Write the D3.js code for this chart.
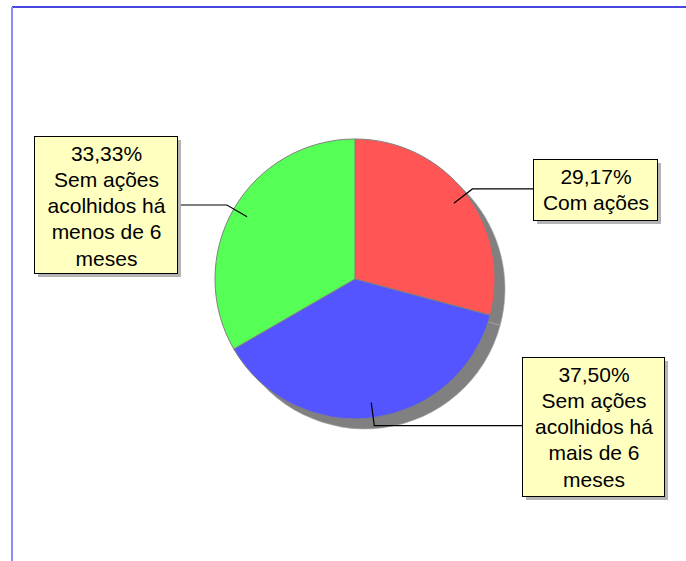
<!DOCTYPE html>
<html>
<head>
<meta charset="utf-8">
<script src="https://cdn.jsdelivr.net/npm/d3@7/dist/d3.min.js"></script>
<style>
  html, body { margin: 0; padding: 0; background: #fff; }
  svg { display: block; }
  .label text { font-family: "Liberation Sans", Arial, sans-serif; font-size: 21px; fill: #000; }
</style>
</head>
<body>
<div id="chart"></div>
<script>
// slices, clockwise from 12 o'clock
var categories = ['Com ações', 'Sem ações acolhidos há mais de 6 meses', 'Sem ações acolhidos há menos de 6 meses'];
var values = [29.17, 37.50, 33.33];
var labelLines = [
  ['Com ações'],
  ['Sem ações', 'acolhidos há', 'mais de 6', 'meses'],
  ['Sem ações', 'acolhidos há', 'menos de 6', 'meses']
];
var colors = ['#ff5555', '#5555ff', '#55ff55'];

var width = 686, height = 561;
var cx = 355, cy = 279, radius = 140, shadowOffset = 10;

// label boxes, same order as the slices
var boxes = [
  { x: 533, y: 159, w: 124, h: 61, side: 'right' },
  { x: 522, y: 357, w: 142, h: 139, side: 'right' },
  { x: 34, y: 136, w: 143, h: 137, side: 'left' }
];

var locale = d3.formatLocale({ decimal: ',', thousands: '.', grouping: [3], currency: ['', ''] });
var fmt = locale.format('.2f');

var svg = d3.select('#chart').append('svg')
    .attr('width', width)
    .attr('height', height);

// frame lines
svg.append('line')
    .attr('x1', 12).attr('y1', 7).attr('x2', width).attr('y2', 7)
    .attr('stroke', '#4848e0').attr('stroke-width', 2);
svg.append('line')
    .attr('x1', 12).attr('y1', 7).attr('x2', 12).attr('y2', height)
    .attr('stroke', '#8c8cff').attr('stroke-width', 2);

var pie = d3.pie().sort(null).value(function(d) { return d; });
var arcs = pie(values);
var arc = d3.arc().innerRadius(0).outerRadius(radius);

// shadow
svg.append('g')
    .attr('transform', 'translate(' + (cx + shadowOffset) + ',' + (cy + shadowOffset) + ')')
  .selectAll('path')
    .data(arcs)
  .enter().append('path')
    .attr('d', arc)
    .attr('fill', '#808080')
    .attr('stroke', '#a8a8a8')
    .attr('stroke-width', 0.6);

// slices
svg.append('g')
    .attr('transform', 'translate(' + cx + ',' + cy + ')')
  .selectAll('path')
    .data(arcs)
  .enter().append('path')
    .attr('d', arc)
    .attr('fill', function(d, i) { return colors[i]; })
    .attr('stroke', '#808080')
    .attr('stroke-width', 1);

// leader lines
function polar(a, r) {
  return [cx + Math.sin(a) * r, cy - Math.cos(a) * r];
}

arcs.forEach(function(d, i) {
  var mid = (d.startAngle + d.endAngle) / 2;
  var p0 = polar(mid, radius * 0.89);
  var p1 = polar(mid, radius * 1.057);
  var b = boxes[i];
  var p2 = [b.side === 'right' ? b.x : b.x + b.w, p1[1]];
  svg.append('polyline')
      .attr('points', [p0, p1, p2].map(function(p) { return p.join(','); }).join(' '))
      .attr('fill', 'none')
      .attr('stroke', '#000')
      .attr('stroke-width', 1.2);
});

// label boxes
var label = svg.selectAll('.label')
    .data(arcs)
  .enter().append('g')
    .attr('class', 'label');

label.append('rect')
    .attr('x', function(d, i) { return boxes[i].x + 4; })
    .attr('y', function(d, i) { return boxes[i].y + 4; })
    .attr('width', function(d, i) { return boxes[i].w; })
    .attr('height', function(d, i) { return boxes[i].h; })
    .attr('fill', '#b4b4b4');

label.append('rect')
    .attr('x', function(d, i) { return boxes[i].x + 0.5; })
    .attr('y', function(d, i) { return boxes[i].y + 0.5; })
    .attr('width', function(d, i) { return boxes[i].w; })
    .attr('height', function(d, i) { return boxes[i].h; })
    .attr('fill', '#ffffc0')
    .attr('stroke', '#000')
    .attr('stroke-width', 1);

label.each(function(d, i) {
  var b = boxes[i];
  var lines = [fmt(values[i]) + '%'].concat(labelLines[i]);
  d3.select(this).selectAll('text')
      .data(lines)
    .enter().append('text')
      .attr('x', b.x + b.w / 2 + 1)
      .attr('y', function(t, j) { return b.y + 24.5 + j * 26.3; })
      .attr('text-anchor', 'middle')
      .text(function(t) { return t; });
});
</script>
</body>
</html>
